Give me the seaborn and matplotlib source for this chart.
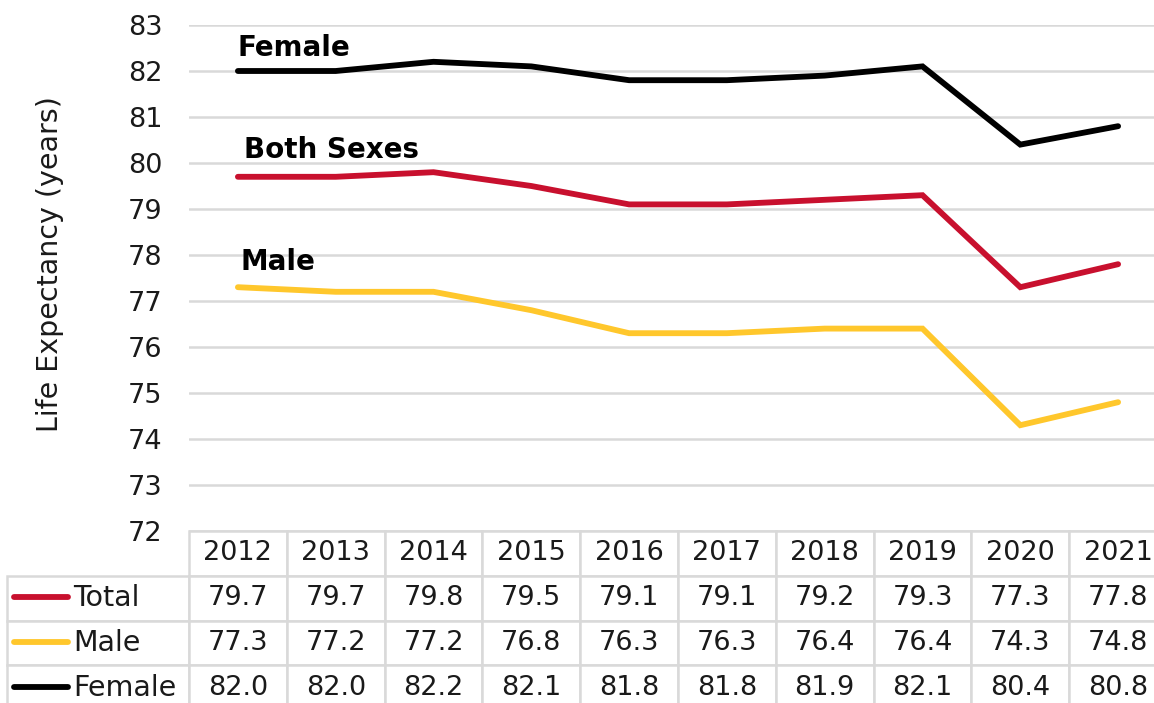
import matplotlib
matplotlib.use("Agg")
import matplotlib.pyplot as plt
from matplotlib.table import Table
import seaborn as sns
import pandas as pd

years = [2012, 2013, 2014, 2015, 2016, 2017, 2018, 2019, 2020, 2021]
total = [79.7, 79.7, 79.8, 79.5, 79.1, 79.1, 79.2, 79.3, 77.3, 77.8]
male = [77.3, 77.2, 77.2, 76.8, 76.3, 76.3, 76.4, 76.4, 74.3, 74.8]
female = [82.0, 82.0, 82.2, 82.1, 81.8, 81.8, 81.9, 82.1, 80.4, 80.8]
series_names = ["Total", "Male", "Female"]
colors = {"Total": "#C8102E", "Male": "#FFC72C", "Female": "#000000"}
grid_col = "#D9D9D9"
text_col = "#1a1a1a"

df = pd.DataFrame({"year": years, "Total": total, "Male": male, "Female": female})
long = df.melt(id_vars="year", var_name="series", value_name="value")

sns.set_theme(style="white")
plt.rcParams["font.family"] = ["DejaVu Sans"]

fig = plt.figure(figsize=(11.54, 7.03), dpi=100)
ax = fig.add_axes([189 / 1154, 1 - 531 / 703, 978 / 1154, 506 / 703])

ax.set_ylim(72, 83)
ax.set_xlim(2011.5, 2021.5)
ax.set_yticks(range(72, 84))
ax.grid(axis="y", color=grid_col, linewidth=1.8)
ax.set_axisbelow(True)
for s in ax.spines.values():
    s.set_visible(False)

sns.lineplot(data=long, x="year", y="value", hue="series", palette=colors,
             linewidth=4.2, legend=False, ax=ax)
for ln in ax.get_lines():
    ln.set_solid_capstyle("round")
    ln.set_solid_joinstyle("miter")

ax.set_xticks([])
ax.set_xlabel("")
ax.tick_params(axis="y", length=0, pad=19, labelsize=19.5, labelcolor=text_col)
ax.set_ylabel("Life Expectancy (years)", fontsize=20.5, color=text_col)
ax.yaxis.set_label_coords(-0.128, 0.528)

# series labels
ax.text(years[0], 82.5, "Female", fontsize=20, fontweight="bold", va="center", ha="left", color="black")
ax.text(years[0] + 0.06, 80.28, "Both Sexes", fontsize=20, fontweight="bold", va="center", ha="left", color="black")
ax.text(years[0] + 0.03, 77.85, "Male", fontsize=20, fontweight="bold", va="center", ha="left", color="black")

# data table
row_values = {"Total": total, "Male": male, "Female": female}
tab = Table(ax, bbox=[-182 / 978, -179 / 506, 1160 / 978, 179 / 506])
lab_w, col_w, row_h = 182, 97.8, 1.0
for j, yr in enumerate(years):
    tab.add_cell(0, j + 1, col_w, row_h, text=str(yr), loc="center",
                 edgecolor=grid_col, facecolor="white")
for i, name in enumerate(series_names):
    c = tab.add_cell(i + 1, 0, lab_w, row_h, text=name, loc="left",
                     edgecolor=grid_col, facecolor="white")
    c.PAD = 66 / 182
    for j, v in enumerate(row_values[name]):
        tab.add_cell(i + 1, j + 1, col_w, row_h, text=f"{v:.1f}", loc="center",
                     edgecolor=grid_col, facecolor="white")
tab.auto_set_font_size(False)
for (r, c), cell in tab.get_celld().items():
    cell.set_linewidth(1.8)
    cell.get_text().set_fontsize(20.5 if c == 0 else 19.5)
    cell.get_text().set_color(text_col)
tab.set_clip_on(False)
ax.add_table(tab)

# legend keys inside the row label cells
for i, name in enumerate(series_names):
    yc = -(574 - 531 + 45 * i + 22.5) / 506
    ax.plot([-175 / 978, -121 / 978], [yc, yc], transform=ax.transAxes,
            color=colors[name], linewidth=4.2, solid_capstyle="round", clip_on=False)

fig.savefig("out.png", dpi=100)
